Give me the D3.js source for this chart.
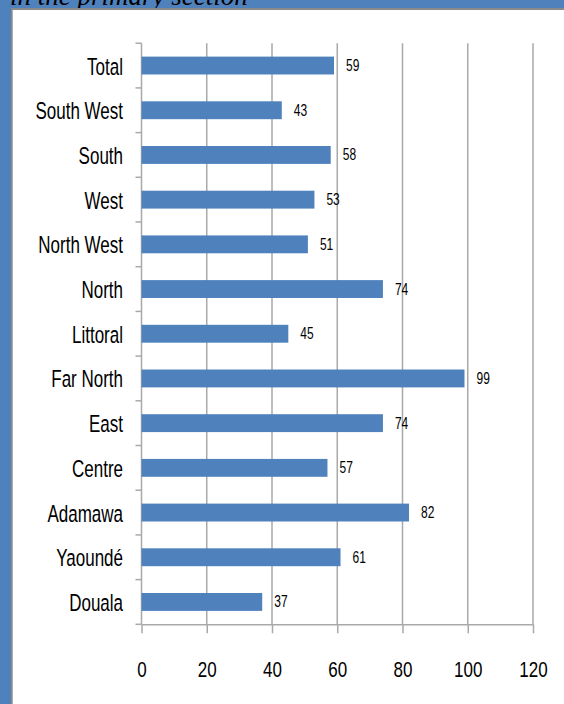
<!DOCTYPE html>
<html>
<head>
<meta charset="utf-8">
<script src="https://cdn.jsdelivr.net/npm/d3@7"></script>
<style>
  html, body { margin: 0; padding: 0; background: #4f81bd; }
  svg { display: block; }
</style>
</head>
<body>
<svg id="chart" width="564" height="704"></svg>
<script>
// Regions, listed top to bottom as they appear on the chart
const regions = ["Total", "South West", "South", "West", "North West", "North",
  "Littoral", "Far North", "East", "Centre", "Adamawa", "Yaoundé", "Douala"];
// Value per region
const values = [59, 43, 58, 53, 51, 74, 45, 99, 74, 57, 82, 61, 37];
// Horizontal axis ticks
const xTicks = [0, 20, 40, 60, 80, 100, 120];
const caption = "in the primary section";

const svg = d3.select("#chart");
const W = 564, H = 704;
const FONT = "'Liberation Sans', Arial, sans-serif";

// Blue page frame
svg.append("rect").attr("width", W).attr("height", H).attr("fill", "#4f81bd");

// Caption above the panel (partly hidden by the panel)
svg.append("text")
  .attr("x", 10).attr("y", 5)
  .attr("font-family", "'Liberation Serif', 'Times New Roman', serif")
  .attr("font-style", "italic")
  .attr("font-size", 27)
  .attr("fill", "#000")
  .text(caption);

// White panel with grey top/left edge
svg.append("rect").attr("x", 11).attr("y", 8).attr("width", W).attr("height", H)
  .attr("fill", "#8a8a8a");
svg.append("rect").attr("x", 12.7).attr("y", 10).attr("width", W).attr("height", H)
  .attr("fill", "#ffffff");

const plot = { left: 141.5, right: 533, top: 43.2, bottom: 624.3 };

const x = d3.scaleLinear().domain([0, 120]).range([plot.left, plot.right]);
const y = d3.scaleBand().domain(regions).range([plot.top, plot.bottom])
  .paddingInner(0.6).paddingOuter(0.3);

const gridColor = "#a9a9a9";

// Vertical gridlines
svg.append("g").selectAll("line").data(xTicks.slice(1)).join("line")
  .attr("x1", d => x(d)).attr("x2", d => x(d))
  .attr("y1", plot.top).attr("y2", plot.bottom)
  .attr("stroke", gridColor).attr("stroke-width", 1.5);

// X axis: baseline, ticks below, labels
const xAxis = svg.append("g").attr("transform", `translate(0,${plot.bottom})`)
  .call(d3.axisBottom(x).tickValues(xTicks).tickSize(9).tickSizeOuter(0).tickFormat(d3.format("d")));
xAxis.select(".domain").attr("stroke", gridColor).attr("stroke-width", 1.5);
xAxis.selectAll(".tick line").attr("stroke", gridColor).attr("stroke-width", 1.5);
xAxis.selectAll(".tick text").remove();
xAxis.selectAll(".tick").append("text")
  .attr("text-anchor", "middle")
  .attr("transform", "translate(0,52.4) scale(1,1.3)")
  .attr("font-family", FONT).attr("font-size", 17).attr("fill", "#000")
  .text(d => d);

// Y axis: line with outward ticks at band boundaries
const yAxisG = svg.append("g");
yAxisG.append("line")
  .attr("x1", plot.left).attr("x2", plot.left)
  .attr("y1", plot.top).attr("y2", plot.bottom)
  .attr("stroke", gridColor).attr("stroke-width", 1.5);
const bounds = regions.map(r => y(r) - y.step() * y.paddingInner() / 2)
  .concat([plot.bottom]);
yAxisG.selectAll("line.tk").data(bounds).join("line").attr("class", "tk")
  .attr("x1", plot.left - 6).attr("x2", plot.left)
  .attr("y1", d => d).attr("y2", d => d)
  .attr("stroke", gridColor).attr("stroke-width", 1.5);

// Category labels
svg.append("g").selectAll("text").data(regions).join("text")
  .attr("text-anchor", "end")
  .attr("transform", d => `translate(123,${y(d) + y.bandwidth() / 2 + 9}) scale(1,1.45)`)
  .attr("font-family", FONT).attr("font-size", 17).attr("fill", "#000")
  .text(d => d);

// Bars
const data = regions.map((r, i) => ({ region: r, value: values[i] }));
svg.append("g").selectAll("rect").data(data).join("rect")
  .attr("x", x(0))
  .attr("y", d => y(d.region))
  .attr("width", d => x(d.value) - x(0))
  .attr("height", y.bandwidth())
  .attr("fill", "#4f81bd");

// Value labels
svg.append("g").selectAll("text").data(data).join("text")
  .attr("text-anchor", "start")
  .attr("transform", d => `translate(${x(d.value) + 12},${y(d.region) + y.bandwidth() / 2 + 5.5}) scale(1,1.35)`)
  .attr("font-family", FONT).attr("font-size", 12).attr("fill", "#000")
  .text(d => d.value);
</script>
</body>
</html>
